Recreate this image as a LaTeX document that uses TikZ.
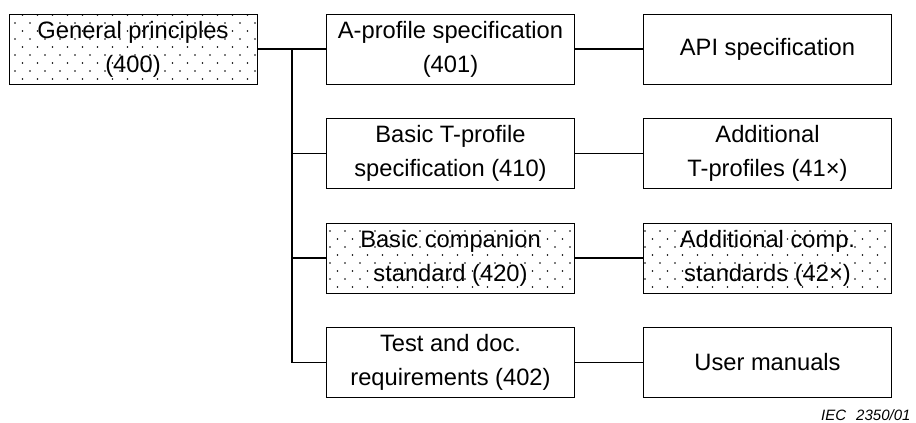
\documentclass[tikz,border=0pt]{standalone}
\usepackage{fontspec}
\setmainfont{Liberation Sans}
\usetikzlibrary{patterns}

\pgfdeclarepatternformonly{sparse dots}{\pgfqpoint{-1pt}{-1pt}}{\pgfqpoint{9pt}{9pt}}{\pgfqpoint{15pt}{16pt}}{
	\pgfpathcircle{\pgfqpoint{0pt}{0pt}}{.8pt}
	\pgfpathcircle{\pgfqpoint{7.5pt}{8pt}}{.8pt}
	\pgfusepath{fill}
}

\tikzset{
	part/.style={draw, line width=.8pt, minimum width=248pt, minimum height=70pt,
		inner sep=0pt, align=center, font=\fontsize{23.7}{34}\selectfont},
	dotpart/.style={part, pattern=sparse dots},
	link/.style={line width=1.4pt}
}

\begin{document}
\begin{tikzpicture}[x=1pt, y=-1pt]
		\useasboundingbox (0,0) rectangle (916,423);

		\node[dotpart] (gp) at (133,49) {General principles\\(400)};

		\node[part] (a401) at (450.5,49) {A-profile specification\\(401)};
		\node[part] (t410) at (450.5,153.5) {Basic T-profile\\specification (410)};
		\node[dotpart] (c420) at (450.5,258) {Basic companion\\standard (420)};
		\node[part] (t402) at (450.5,362.5) {Test and doc.\\requirements (402)};

		\node[part] (api) at (767.5,49) {API specification};
		\node[part] (t41x) at (767.5,153.5) {Additional\\T-profiles (41×)};
		\node[dotpart] (c42x) at (767.5,258) {Additional comp.\\standards (42×)};
		\node[part] (man) at (767.5,362.5) {User manuals};

		\coordinate (top) at (292,49);
		\coordinate (bot) at (292,362.5);

		\draw[link] (gp) -- (a401);
		\draw[link] (top) -- (bot);
		\draw[link] (bot |- t410) -- (t410);
		\draw[link] (bot |- c420) -- (c420);
		\draw[link] (bot) -- (t402);

		\draw[link] (a401) -- (api);
		\draw[link] (t410) -- (t41x);
		\draw[link] (c420) -- (c42x);
		\draw[link] (t402) -- (man);

		\node[anchor=base east, font=\fontsize{15}{17}\selectfont\itshape] (iec) at (914,420) {IEC\hspace{10pt}2350/01};
	\end{tikzpicture}
\end{document}
